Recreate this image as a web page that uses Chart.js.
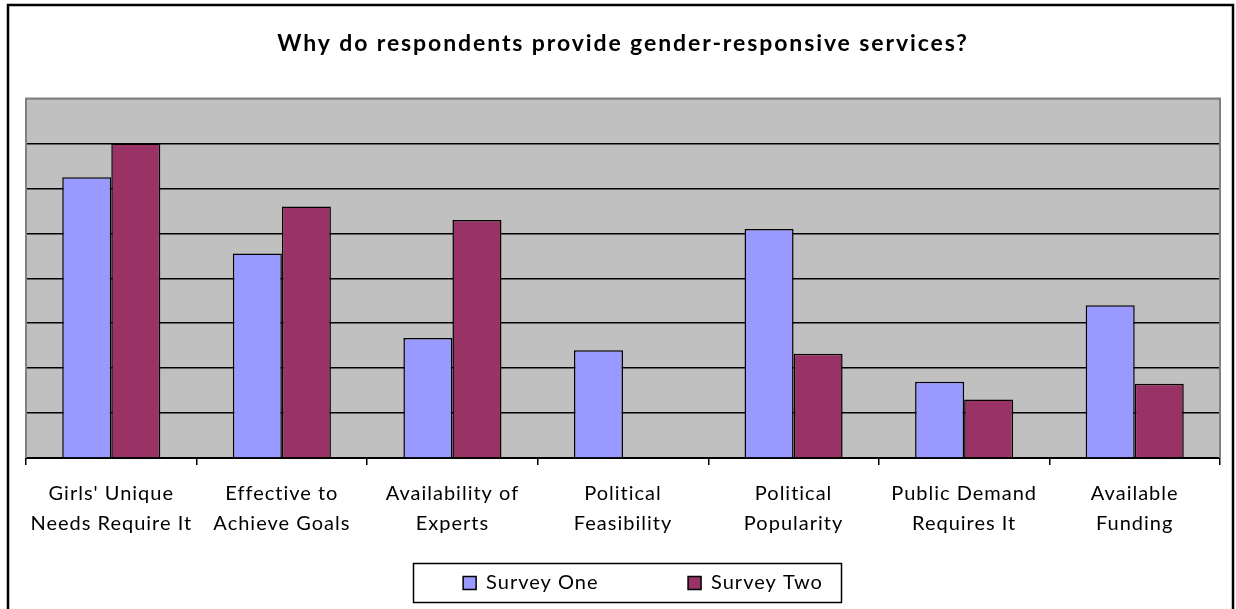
<!DOCTYPE html>
<html>
<head>
<meta charset="utf-8">
<title>Why do respondents provide gender-responsive services?</title>
<script src="https://cdn.jsdelivr.net/npm/chart.js@4/dist/chart.umd.min.js"></script>
<style>
  html, body { margin: 0; padding: 0; background: #ffffff; }
  #wrap { width: 1236px; height: 609px; position: relative; }
</style>
</head>
<body>
<div id="wrap"><canvas id="chart" width="1236" height="609"></canvas></div>
<script>
// Reasons given for providing gender-responsive services
const categories = [
  ["Girls' Unique", "Needs Require It"],
  ["Effective to", "Achieve Goals"],
  ["Availability of", "Experts"],
  ["Political", "Feasibility"],
  ["Political", "Popularity"],
  ["Public Demand", "Requires It"],
  ["Available", "Funding"]
];
const surveyOne = [6.25, 4.55, 2.67, 2.4, 5.1, 1.7, 3.4];
const surveyTwo = [7.0, 5.6, 5.3, 0, 2.32, 1.3, 1.65];
const seriesNames = ["Survey One", "Survey Two"];
const yMax = 8;

const FONT = "Lato, 'Open Sans', sans-serif";
const TEXT_SPACING = '1px';
const TITLE_SPACING = '1.9px';

// Letter spacing, grey plot background, plot frame, legend box and outer border
const framePlugin = {
  id: 'frame',
  beforeInit(chart) {
    chart.ctx.letterSpacing = TEXT_SPACING;
  },
  beforeLayout(chart) {
    chart.ctx.letterSpacing = TEXT_SPACING;
  },
  afterLayout(chart) {
    // move the legend row a little to the right
    const lg = chart.legend;
    lg.left += 20;
    lg.right += 20;
  },
  beforeDraw(chart) {
    const { ctx, chartArea: a } = chart;
    ctx.letterSpacing = TEXT_SPACING;
    const tb = chart.titleBlock;
    if (tb && !tb._spaced) {
      const orig = tb.draw.bind(tb);
      tb.draw = function () {
        const prev = ctx.letterSpacing;
        ctx.letterSpacing = TITLE_SPACING;
        orig();
        ctx.letterSpacing = prev;
      };
      tb._spaced = true;
    }
    ctx.save();
    ctx.fillStyle = '#ffffff';
    ctx.fillRect(0, 0, chart.width, chart.height);
    ctx.fillStyle = '#c0c0c0';
    ctx.fillRect(a.left, a.top, a.right - a.left, a.bottom - a.top);
    ctx.restore();
  },
  afterDatasetsDraw(chart) {
    const { ctx, chartArea: a } = chart;
    ctx.save();
    ctx.strokeStyle = '#808080';
    ctx.lineWidth = 2;
    ctx.beginPath();
    ctx.moveTo(a.left, a.bottom);
    ctx.lineTo(a.left, a.top);
    ctx.lineTo(a.right, a.top);
    ctx.lineTo(a.right, a.bottom);
    ctx.stroke();
    ctx.restore();
  },
  afterDraw(chart) {
    const { ctx } = chart;
    ctx.save();
    const lg = chart.legend;
    const hb = lg.legendHitBoxes;
    if (hb && hb.length) {
      const last = hb[hb.length - 1];
      const left = hb[0].left - 50;
      const right = last.left + last.width + 18;
      ctx.strokeStyle = '#000000';
      ctx.lineWidth = 1.5;
      ctx.strokeRect(Math.round(left) + 0.5, lg.top + 0.5, Math.round(right - left), lg.bottom - lg.top - 1);
    }
    ctx.strokeStyle = '#000000';
    ctx.lineWidth = 2.5;
    ctx.strokeRect(8, 5, 1225, 640);
    ctx.restore();
  }
};

new Chart(document.getElementById('chart'), {
  type: 'bar',
  data: {
    labels: categories,
    datasets: [
      {
        label: seriesNames[0],
        data: surveyOne,
        backgroundColor: '#9999ff',
        borderColor: '#000000',
        borderWidth: 1.5
      },
      {
        label: seriesNames[1],
        data: surveyTwo,
        backgroundColor: '#993366',
        borderColor: '#000000',
        borderWidth: 1.5
      }
    ]
  },
  options: {
    responsive: false,
    animation: false,
    devicePixelRatio: 1,
    layout: { padding: { left: 26, right: 16, top: 0, bottom: 6 } },
    datasets: {
      bar: { categoryPercentage: 0.575, barPercentage: 1.0 }
    },
    plugins: {
      title: {
        display: true,
        text: 'Why do respondents provide gender-responsive services?',
        color: '#000000',
        font: { family: FONT, size: 23, weight: 'bold', lineHeight: 1.2 },
        padding: { top: 30, bottom: 41 }
      },
      legend: {
        display: true,
        position: 'bottom',
        align: 'center',
        labels: {
          color: '#000000',
          font: { family: FONT, size: 20 },
          boxWidth: 13,
          boxHeight: 13,
          padding: 10,
          generateLabels(chart) {
            const items = Chart.defaults.plugins.legend.labels.generateLabels(chart);
            items.forEach(it => { it.lineWidth = 1.5; it.strokeStyle = '#000000'; });
            // wider gap after the first entry
            items[0].text = items[0].text + '\u00a0'.repeat(13);
            return items;
          }
        }
      },
      tooltip: { enabled: false }
    },
    scales: {
      x: {
        offset: true,
        border: { display: true, color: '#000000', width: 2 },
        grid: {
          offset: true,
          drawOnChartArea: false,
          drawTicks: true,
          tickLength: 7,
          color: '#000000',
          lineWidth: 1.5
        },
        ticks: {
          color: '#000000',
          font: { family: FONT, size: 20, lineHeight: 1.5 },
          padding: 14,
          maxRotation: 0,
          minRotation: 0,
          autoSkip: false
        },
        afterFit(scale) { scale.height = 105; }
      },
      y: {
        min: 0,
        max: yMax,
        border: { display: false },
        ticks: { display: false, stepSize: 1 },
        grid: {
          drawTicks: false,
          lineWidth: 1.5,
          color(ctx) {
            if (ctx.tick && ctx.tick.value === 0) return 'rgba(0,0,0,0)';
            if (ctx.tick && ctx.tick.value === yMax) return '#808080';
            return '#000000';
          }
        },
        afterFit(scale) { scale.width = 0; }
      }
    }
  },
  plugins: [framePlugin]
});
</script>
</body>
</html>
